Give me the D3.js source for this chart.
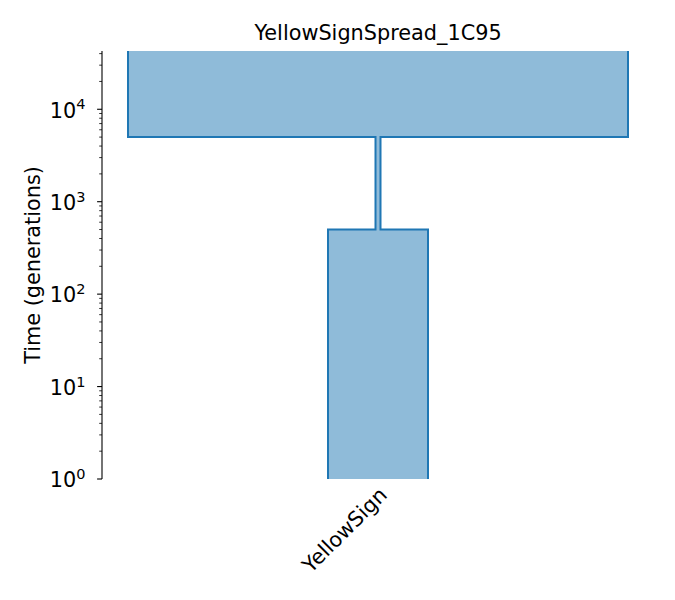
<!DOCTYPE html>
<html>
<head>
<meta charset="utf-8">
<script src="https://cdn.jsdelivr.net/npm/d3@7"></script>
<style>
  body { margin: 0; background: #fff; }
  text { font-family: "DejaVu Sans", sans-serif; fill: #000; }
</style>
</head>
<body>
<svg id="chart" width="675" height="600"></svg>
<script>
// dati
var title = "YellowSignSpread_1C95";
var demeNames = ["YellowSign"];
var epochStart = [Infinity, 5000, 500];   // generazioni fa
var epochEnd = [5000, 500, 0];
var epochSize = [5000, 50, 1000];
var yTicks = [1, 10, 100, 1000, 10000];
var yDomain = [1, 42700];

var w = 675, h = 600;
var margin = { top: 51, right: 21, bottom: 121, left: 102 };
var innerW = w - margin.left - margin.right;
var innerH = h - margin.top - margin.bottom;
var fs = 20.8;

var svg = d3.select("#chart");

// scale: x in "individui", y logaritmica nel tempo
var x = d3.scaleLinear().domain([-2760, 2760]).range([0, innerW]);
var y = d3.scaleLog().domain(yDomain).range([innerH, 0]);

var g = svg.append("g")
  .attr("transform", "translate(" + margin.left + "," + margin.top + ")");

svg.append("defs").append("clipPath").attr("id", "area")
  .append("rect").attr("width", innerW).attr("height", innerH);

// titolo
svg.append("text")
  .attr("x", margin.left + innerW / 2).attr("y", 39.5)
  .attr("text-anchor", "middle")
  .style("font-size", fs + "px")
  .text(title);

// tubo del deme: costruisco il contorno epoca per epoca
function clampT(t) {
  if (t === Infinity) return yDomain[1] * 3;
  if (t <= 0) return yDomain[0] / 3;
  return t;
}
var left = [], right = [];
for (var i = 0; i < epochSize.length; i++) {
  var half = epochSize[i] / 2;
  left.push([-half, clampT(epochStart[i])], [-half, clampT(epochEnd[i])]);
  right.push([half, clampT(epochStart[i])], [half, clampT(epochEnd[i])]);
}
var outline = left.concat(right.reverse());

var line = d3.line()
  .x(function(d) { return x(d[0]); })
  .y(function(d) { return y(d[1]); });

g.append("path")
  .attr("clip-path", "url(#area)")
  .attr("d", line(outline) + "Z")
  .attr("fill", "#1f77b4")
  .attr("fill-opacity", 0.5)
  .attr("stroke", "#1f77b4")
  .attr("stroke-width", 2)
  .attr("stroke-linejoin", "miter");

// asse y con tick minori
var minor = [];
for (var d = 1; d <= 10000; d *= 10) {
  for (var k = 2; k <= 9; k++) {
    if (d * k <= yDomain[1]) minor.push(d * k);
  }
}
var yAxisG = g.append("g");
yAxisG.append("line")
  .attr("x1", 0).attr("x2", 0).attr("y1", 0).attr("y2", innerH)
  .attr("stroke", "#000").attr("stroke-width", 1.1);
yAxisG.selectAll(".minor").data(minor).enter().append("line")
  .attr("x1", -2.8).attr("x2", 0)
  .attr("y1", function(d) { return y(d); })
  .attr("y2", function(d) { return y(d); })
  .attr("stroke", "#000").attr("stroke-width", 0.8);
yAxisG.selectAll(".major").data(yTicks).enter().append("line")
  .attr("x1", -4.9).attr("x2", 0)
  .attr("y1", function(d) { return y(d); })
  .attr("y2", function(d) { return y(d); })
  .attr("stroke", "#000").attr("stroke-width", 1.1);
var lab = yAxisG.selectAll(".lab").data(yTicks).enter().append("text")
  .attr("x", -16.5)
  .attr("y", function(d) { return y(d) + 8.3; })
  .attr("text-anchor", "end")
  .style("font-size", fs + "px");
lab.append("tspan").text("10");
lab.append("tspan")
  .attr("dy", -8.3)
  .style("font-size", "14.5px")
  .text(function(d) { return Math.round(Math.log10(d)); });

// etichetta asse y
svg.append("text")
  .attr("transform", "translate(40," + (margin.top + innerH / 2) + ") rotate(-90)")
  .attr("text-anchor", "middle")
  .style("font-size", fs + "px")
  .text("Time (generations)");

// etichette x ruotate
demeNames.forEach(function(name) {
  var px = margin.left + x(0);
  svg.append("text")
    .attr("transform", "translate(" + (px + 0) + "," + (margin.top + innerH + 7) + ") rotate(-45)")
    .attr("text-anchor", "end")
    .attr("dy", "0.7em")
    .style("font-size", fs + "px")
    .text(name);
});
</script>
</body>
</html>
